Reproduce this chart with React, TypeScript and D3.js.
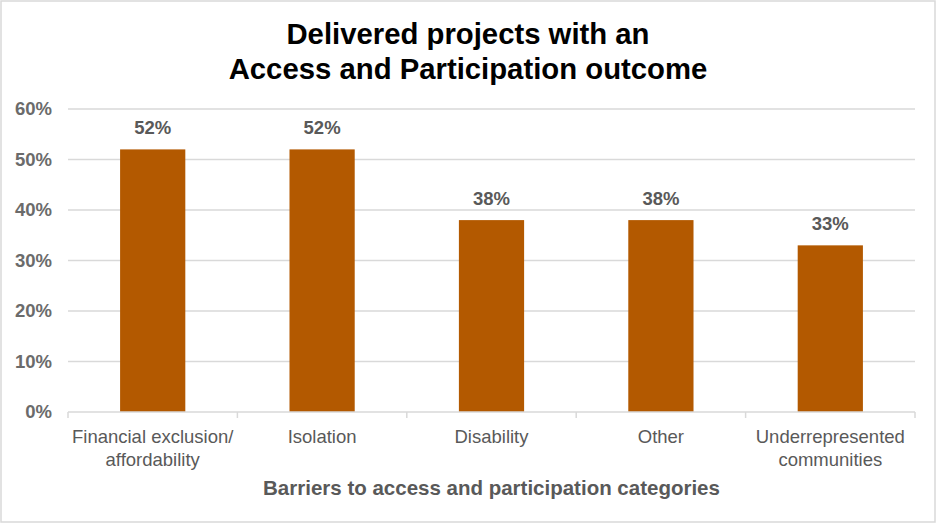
import React, { useRef, useEffect } from 'react';
import * as d3 from 'd3';

const categories = [
  ['Financial exclusion/', 'affordability'],
  ['Isolation'],
  ['Disability'],
  ['Other'],
  ['Underrepresented', 'communities'],
];
const values = [52, 52, 38, 38, 33];
const yTicks = [0, 10, 20, 30, 40, 50, 60];
const titleLines = ['Delivered projects with an', 'Access and Participation outcome'];
const xTitle = 'Barriers to access and participation categories';

const App = () => {
  const svgRef = useRef<SVGSVGElement>(null);

  useEffect(() => {
    document.body.style.margin = '0';

    const width = 937;
    const height = 525;
    const margin = { top: 109, right: 22, bottom: 113, left: 68 };
    const font = 'Arial, "Liberation Sans", sans-serif';

    const svg = d3.select(svgRef.current)
      .attr('width', width)
      .attr('height', height);
    svg.selectAll('*').remove();

    // Chart frame
    svg.append('rect')
      .attr('x', 1)
      .attr('y', 1)
      .attr('width', width - 3)
      .attr('height', height - 4)
      .attr('fill', '#fff')
      .attr('stroke', '#d9d9d9')
      .attr('stroke-width', 1.5);

    const x = d3.scaleBand()
      .domain(categories.map((_, i) => String(i)))
      .range([margin.left, width - margin.right])
      .paddingInner(0.615)
      .paddingOuter(0.3075);

    const y = d3.scaleLinear()
      .domain([0, 60])
      .range([height - margin.bottom, margin.top]);

    // Gridlines
    svg.append('g')
      .selectAll('line')
      .data(yTicks.filter(d => d > 0))
      .join('line')
      .attr('x1', margin.left)
      .attr('x2', width - margin.right)
      .attr('y1', d => y(d))
      .attr('y2', d => y(d))
      .attr('stroke', '#d9d9d9')
      .attr('stroke-width', 1.5);

    // Y tick labels
    svg.append('g')
      .selectAll('text')
      .data(yTicks)
      .join('text')
      .attr('x', 52)
      .attr('y', d => y(d))
      .attr('dy', '0.35em')
      .attr('text-anchor', 'end')
      .attr('font-family', font)
      .attr('font-size', 18.5)
      .attr('font-weight', 'bold')
      .attr('fill', '#6b6b6b')
      .text(d => `${d}%`);

    // Bars
    svg.append('g')
      .selectAll('rect')
      .data(values)
      .join('rect')
      .attr('x', (_, i) => x(String(i)))
      .attr('y', d => y(d))
      .attr('width', x.bandwidth())
      .attr('height', d => y(0) - y(d))
      .attr('fill', '#b35900');

    // Value labels
    svg.append('g')
      .selectAll('text')
      .data(values)
      .join('text')
      .attr('x', (_, i) => x(String(i)) + x.bandwidth() / 2)
      .attr('y', d => y(d) - 15)
      .attr('text-anchor', 'middle')
      .attr('font-family', font)
      .attr('font-size', 18.5)
      .attr('font-weight', 'bold')
      .attr('fill', '#595959')
      .text(d => `${d}%`);

    // X axis line and category dividers
    const step = x.step();
    const axis = svg.append('g');
    axis.append('line')
      .attr('x1', margin.left)
      .attr('x2', width - margin.right)
      .attr('y1', y(0))
      .attr('y2', y(0))
      .attr('stroke', '#d9d9d9')
      .attr('stroke-width', 1.5);
    axis.selectAll('line.tick')
      .data(d3.range(categories.length + 1))
      .join('line')
      .attr('class', 'tick')
      .attr('x1', i => margin.left + i * step)
      .attr('x2', i => margin.left + i * step)
      .attr('y1', y(0))
      .attr('y2', y(0) + 6)
      .attr('stroke', '#d9d9d9')
      .attr('stroke-width', 1.5);

    // Category labels
    const catText = svg.append('g')
      .selectAll('text')
      .data(categories)
      .join('text')
      .attr('text-anchor', 'middle')
      .attr('font-family', font)
      .attr('font-size', 18.5)
      .attr('fill', '#595959');
    catText.selectAll('tspan')
      .data((d, i) => d.map(line => ({ line, i })))
      .join('tspan')
      .attr('x', d => x(String(d.i)) + x.bandwidth() / 2)
      .attr('y', (_, j) => 442.5 + j * 23)
      .text(d => d.line);

    // Axis title
    svg.append('text')
      .attr('x', (margin.left + width - margin.right) / 2)
      .attr('y', 495)
      .attr('text-anchor', 'middle')
      .attr('font-family', font)
      .attr('font-size', 20.5)
      .attr('font-weight', 'bold')
      .attr('fill', '#595959')
      .text(xTitle);

    // Chart title
    svg.append('g')
      .selectAll('text')
      .data(titleLines)
      .join('text')
      .attr('x', 468)
      .attr('y', (_, i) => 44 + i * 35)
      .attr('text-anchor', 'middle')
      .attr('font-family', font)
      .attr('font-size', 29.3)
      .attr('font-weight', 'bold')
      .attr('fill', '#000')
      .text(d => d);
  }, []);

  return <svg ref={svgRef} style={{ display: 'block' }}></svg>;
};

export default App;
